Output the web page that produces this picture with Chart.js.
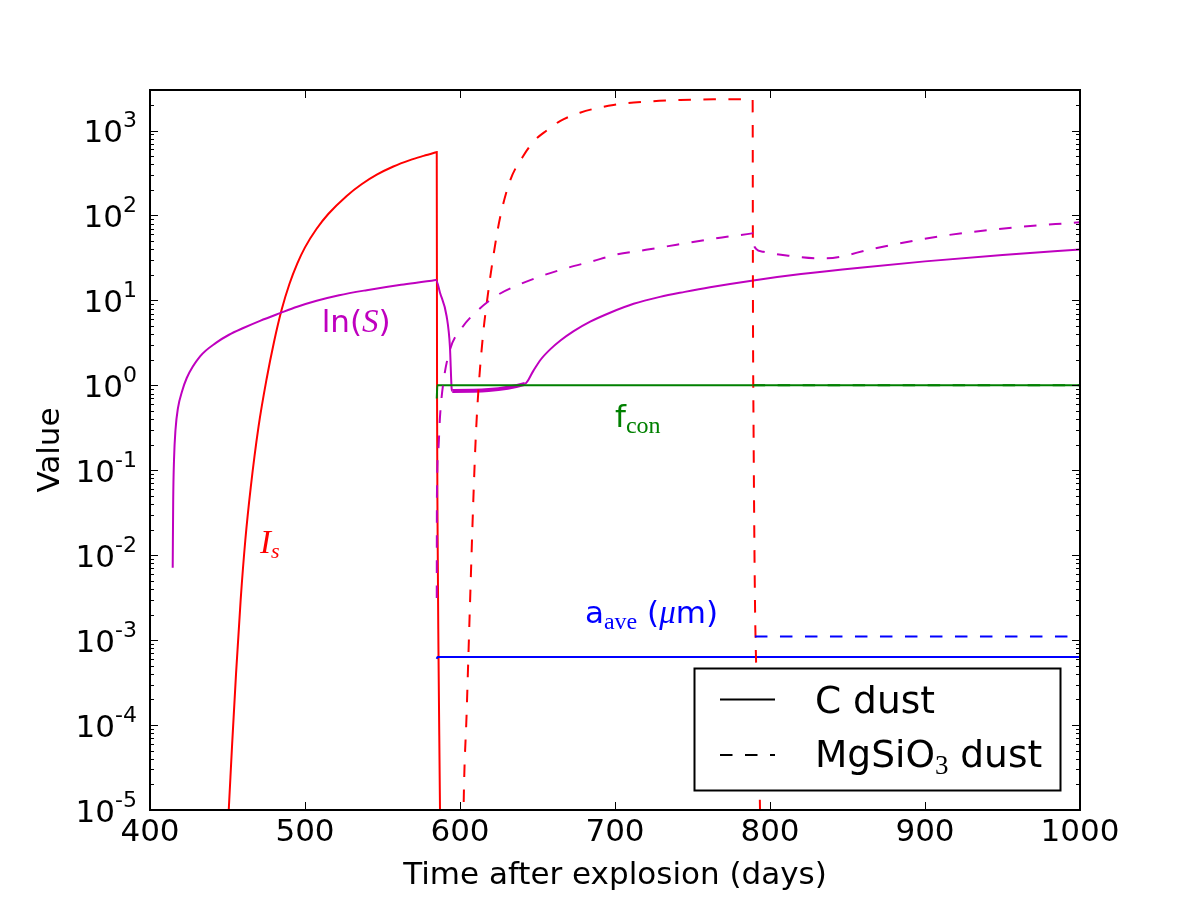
<!DOCTYPE html>
<html><head><meta charset="utf-8">
<script src="https://cdn.jsdelivr.net/npm/chart.js@4.4.1/dist/chart.umd.min.js"></script>
<style>html,body{margin:0;padding:0;background:#fff;}#wrap{width:1200px;height:900px;}</style>
</head><body><div id="wrap"><canvas id="c" width="1200" height="900"></canvas></div>
<script>
// ---------- data ----------
const xTickValues = [400, 500, 600, 700, 800, 900, 1000];
const yTickExponents = ['-5', '-4', '-3', '-2', '-1', '0', '1', '2', '3'];

// I_s, C dust (solid red)
const isC_t = [449.3, 450.8, 453.0, 455.5, 458.5, 461.5, 465.0, 470.0, 475.2, 480.0, 485.0, 490.0, 495.0, 500.0, 507.5, 515.0, 526.9, 536.5, 546.3, 557.0, 567.7, 576.5, 584.7, 585.0, 585.2, 585.5, 586.1, 587.1, 587.3];
const isC_v = [3.2e-6, 1.0e-5, 6.0e-5, 4.0e-4, 3.0e-3, 0.0151, 0.063, 0.324, 1.18, 3.24, 7.85, 15.7, 27.1, 42.1, 69.7, 104, 170, 233, 302, 377, 448, 503, 556, 558, 0.67, 0.026, 7.7e-4, 1.0e-5, 3.4e-6];

// ln(S), C dust (solid magenta)
const lnC_t = [414.65, 414.97, 415.5, 416.45, 418.06, 420.6, 423.7, 432.3, 443.0, 451.0, 460.2, 471.0, 483.9, 495.0, 507.5, 522.0, 539.8, 562.0, 584.2, 584.5, 587.1, 591.4, 593.5, 594.6, 595.0, 641.9, 647.3, 652.0, 658.0, 665.0, 673.1, 684.0, 696.8, 712.0, 729.0, 745.0, 761.3, 789.2, 820.0, 858.0, 900.0, 950.0, 1000];
const lnC_v = [0.0071, 0.0448, 0.133, 0.30, 0.543, 0.838, 1.22, 2.19, 3.20, 3.94, 4.73, 5.75, 7.08, 8.41, 9.89, 11.5, 13.2, 15.3, 17.35, 17.4, 12.3, 6.46, 2.85, 0.92, 0.86, 1.04, 1.48, 2.0, 2.63, 3.39, 4.32, 5.62, 7.16, 9.12, 11.0, 12.6, 14.3, 17.2, 20.4, 24.3, 28.8, 34.3, 39.8];

// f_con, C dust (solid green)
const fcC_t = [585.0, 585.4, 1000];
const fcC_v = [0.70, 1.0, 1.0];

// a_ave, C dust (solid blue)
const aC_t = [585.0, 585.5, 1000];
const aC_v = [6.0e-4, 6.34e-4, 6.34e-4];

// I_s, MgSiO3 dust (dashed red)
const isM_t = [602.0, 602.3, 604.3, 606.4, 608.6, 610.2, 611.8, 615.0, 617.2, 621.5, 625.8, 632.3, 640.8, 648.0, 655.9, 664.5, 677.4, 699.0, 720.5, 742.0, 763.4, 788.8, 789.0, 789.4, 790.3, 791.0, 792.3, 793.5, 793.9];
const isM_v = [3.2e-6, 1.0e-5, 1.41e-4, 2.5e-3, 0.0447, 0.251, 0.832, 4.17, 9.12, 33.1, 93.3, 257, 501, 759, 1000, 1290, 1620, 2000, 2190, 2290, 2330, 2330, 10, 0.3, 2.9e-3, 5.8e-4, 7.6e-5, 1.15e-5, 3.4e-6];

// ln(S), MgSiO3 dust (dashed magenta)
const lnM_t = [585.0, 585.1, 586.0, 587.1, 589.2, 593.5, 601.1, 611.8, 624.7, 638.7, 653.7, 668.8, 685.0, 701.1, 720.0, 739.8, 760.0, 772.1, 788.5, 788.8, 789.4, 791.0, 795.7, 812.9, 830.1, 836.6, 866.7, 909.7, 952.7, 1000];
const lnM_v = [0.00314, 0.0448, 0.174, 0.428, 1.06, 2.62, 4.72, 7.74, 11.7, 15.5, 19.7, 24.0, 28.8, 34.7, 39.4, 45.2, 51.9, 56.2, 61.5, 61.7, 47.6, 40.5, 37.4, 33.5, 31.4, 31.4, 40.7, 56.9, 70.8, 83.2];

// f_con, MgSiO3 dust (dashed green)
const fcM_t = [788.8, 1000];
const fcM_v = [1.0, 1.0];

// a_ave, MgSiO3 dust (dashed blue)
const aM_t = [790.3, 1000];
const aM_v = [1.10e-3, 1.10e-3];

// ---------- styles ----------
const RED = '#ff0000', MAG = '#bf00bf', GRN = '#008000', BLU = '#0000ff';
const SANS = '"DejaVu Sans", sans-serif';
const SERIF = '"Liberation Serif", serif';
const DASH = [12.5, 12.5];

function pts(t, v) { return t.map((tt, i) => ({x: tt, y: v[i]})); }

const seriesDefs = [
  {t: isC_t, v: isC_v, c: RED, d: []},
  {t: lnC_t, v: lnC_v, c: MAG, d: [], band: true},
  {t: fcC_t, v: fcC_v, c: GRN, d: []},
  {t: aC_t, v: aC_v, c: BLU, d: []},
  {t: isM_t, v: isM_v, c: RED, d: DASH},
  {t: lnM_t, v: lnM_v, c: MAG, d: DASH},
  {t: fcM_t, v: fcM_v, c: GRN, d: DASH},
  {t: aM_t, v: aM_v, c: BLU, d: DASH},
];
const N = seriesDefs.length;
const datasets = seriesDefs.map((s, i) => {
  const ds = {
    data: pts(s.t, s.v),
    borderColor: s.c,
    borderWidth: 2,
    borderDash: s.d,
    pointRadius: 0,
    fill: false,
    cubicInterpolationMode: 'monotone',
    order: N - i
  };
  if (s.band) {
    ds.segment = {
      borderWidth: ctx => (ctx.p0.parsed.x >= 594.9 && ctx.p1.parsed.x <= 642) ? 4 : 2
    };
  }
  return ds;
});

function runs(ctx, x, y, parts, color, align) {
  let w = 0;
  parts.forEach(p => { ctx.font = p.f; p.w = ctx.measureText(p.t).width; w += p.w; });
  let cx = align === 'right' ? x - w : (align === 'center' ? x - w / 2 : x);
  ctx.fillStyle = color; ctx.textBaseline = 'alphabetic'; ctx.textAlign = 'left';
  parts.forEach(p => { ctx.font = p.f; ctx.fillText(p.t, cx, y + (p.dy || 0)); cx += p.w; });
}

const deco = {
  id: 'deco',
  afterDatasetsDraw(chart) {
    const {ctx, chartArea: a, scales} = chart;
    const xs = scales.x, ys = scales.y;
    ctx.save();

    // in-plot labels (anchored in data coordinates)
    const F = 31, FS = 22;
    runs(ctx, xs.getPixelForValue(471), ys.getPixelForValue(0.0106), [
      {t: 'I', f: `italic ${F + 2}px ${SERIF}`},
      {t: 's', f: `italic ${FS}px ${SERIF}`, dy: 5}
    ], RED, 'left');
    runs(ctx, xs.getPixelForValue(510.8), ys.getPixelForValue(4.27), [
      {t: 'ln(', f: `${F}px ${SANS}`},
      {t: 'S', f: `italic ${F + 2}px ${SERIF}`},
      {t: ')', f: `${F}px ${SANS}`}
    ], MAG, 'left');
    runs(ctx, xs.getPixelForValue(700), ys.getPixelForValue(0.327), [
      {t: 'f', f: `${F}px ${SANS}`},
      {t: 'con', f: `${FS + 2}px ${SERIF}`, dy: 6}
    ], GRN, 'left');
    runs(ctx, xs.getPixelForValue(680.6), ys.getPixelForValue(1.59e-3), [
      {t: 'a', f: `${F}px ${SANS}`},
      {t: 'ave', f: `${FS + 2}px ${SERIF}`, dy: 6},
      {t: ' (', f: `${F}px ${SANS}`},
      {t: 'μ', f: `italic ${F + 2}px ${SERIF}`},
      {t: 'm)', f: `${F}px ${SANS}`}
    ], BLU, 'left');

    // legend
    const L = {x: 694.5, y: 668.5, w: 366, h: 122};
    ctx.fillStyle = '#fff';
    ctx.fillRect(L.x, L.y, L.w, L.h);
    ctx.strokeStyle = '#000'; ctx.lineWidth = 2; ctx.setLineDash([]);
    ctx.strokeRect(L.x, L.y, L.w, L.h);
    ctx.beginPath(); ctx.moveTo(720, 699.5); ctx.lineTo(775, 699.5); ctx.stroke();
    ctx.setLineDash(DASH);
    ctx.beginPath(); ctx.moveTo(720, 755); ctx.lineTo(775, 755); ctx.stroke();
    ctx.setLineDash([]);
    runs(ctx, 815, 713, [{t: 'C dust', f: `37.5px ${SANS}`}], '#000', 'left');
    runs(ctx, 815, 767, [
      {t: 'MgSiO', f: `37.5px ${SANS}`},
      {t: '3', f: `27px ${SERIF}`, dy: 7},
      {t: ' dust', f: `37.5px ${SANS}`}
    ], '#000', 'left');

    // frame
    ctx.strokeStyle = '#000'; ctx.lineWidth = 2;
    ctx.strokeRect(a.left, a.top, a.right - a.left, a.bottom - a.top);

    // ticks
    ctx.lineWidth = 1;
    ctx.beginPath();
    xTickValues.forEach(v => {
      const px = Math.round(xs.getPixelForValue(v)) + 0.5;
      ctx.moveTo(px, a.bottom); ctx.lineTo(px, a.bottom - 8);
      ctx.moveTo(px, a.top); ctx.lineTo(px, a.top + 8);
    });
    yTickExponents.forEach(e => {
      const base = Math.pow(10, Number(e));
      const py = Math.round(ys.getPixelForValue(base)) + 0.5;
      ctx.moveTo(a.left, py); ctx.lineTo(a.left + 8, py);
      ctx.moveTo(a.right, py); ctx.lineTo(a.right - 8, py);
      for (let k = 2; k <= 9; k++) {
        const val = k * base;
        if (val > ys.max) break;
        const my = Math.round(ys.getPixelForValue(val)) + 0.5;
        ctx.moveTo(a.left, my); ctx.lineTo(a.left + 4, my);
        ctx.moveTo(a.right, my); ctx.lineTo(a.right - 4, my);
      }
    });
    ctx.stroke();

    // tick labels
    yTickExponents.forEach(e => {
      const py = ys.getPixelForValue(Math.pow(10, Number(e)));
      runs(ctx, 137, py + 11.5, [
        {t: '10', f: `31px ${SANS}`},
        {t: e, f: `22px ${SANS}`, dy: -15}
      ], '#000', 'right');
    });
    xTickValues.forEach(v => {
      runs(ctx, xs.getPixelForValue(v), 841, [{t: String(v), f: `31px ${SANS}`}], '#000', 'center');
    });

    // axis titles
    runs(ctx, (a.left + a.right) / 2, 884, [{t: 'Time after explosion (days)', f: `31px ${SANS}`}], '#000', 'center');
    ctx.save();
    ctx.translate(59, (a.top + a.bottom) / 2);
    ctx.rotate(-Math.PI / 2);
    runs(ctx, 0, 0, [{t: 'Value', f: `31px ${SANS}`}], '#000', 'center');
    ctx.restore();

    ctx.restore();
  }
};

new Chart(document.getElementById('c'), {
  type: 'line',
  data: {datasets},
  options: {
    responsive: false,
    animation: false,
    devicePixelRatio: 1,
    layout: {padding: {left: 150, right: 120, top: 90, bottom: 90}},
    plugins: {legend: {display: false}, tooltip: {enabled: false}},
    scales: {
      x: {type: 'linear', min: 400, max: 1000, display: false},
      y: {type: 'logarithmic', min: 1e-5, max: 3000, display: false}
    }
  },
  plugins: [deco]
});
</script>
</body></html>
